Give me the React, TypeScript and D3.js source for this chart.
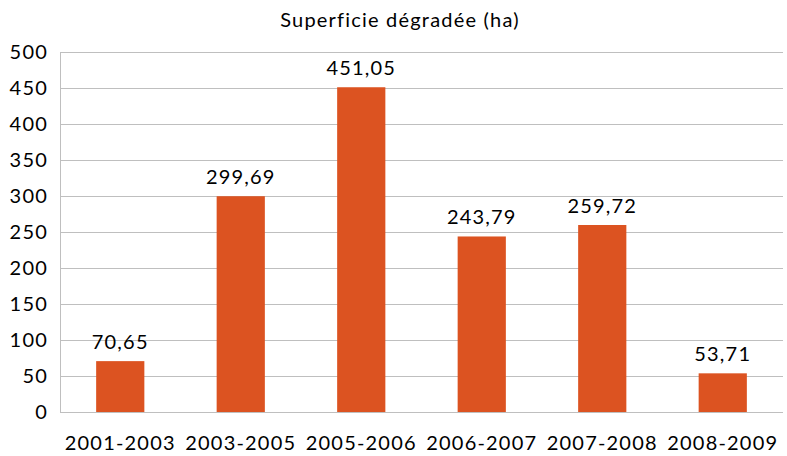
import React, { useEffect, useRef } from "react";
import * as d3 from "d3";

const periods = ["2001-2003", "2003-2005", "2005-2006", "2006-2007", "2007-2008", "2008-2009"];
const surfaces = [70.65, 299.69, 451.05, 243.79, 259.72, 53.71];
const yTicks = [0, 50, 100, 150, 200, 250, 300, 350, 400, 450, 500];
const title = "Superficie dégradée (ha)";

const width = 787;
const height = 456;
const margin = { top: 52, right: 4, bottom: 44, left: 60 };
const font = "Lato, 'Open Sans', sans-serif";

export default function App() {
  const ref = useRef<SVGSVGElement>(null);

  useEffect(() => {
    const svg = d3.select(ref.current);
    svg.html("");

    const x = d3.scaleBand()
      .domain(periods)
      .range([margin.left, width - margin.right])
      .paddingInner(0.6)
      .paddingOuter(0.3);

    const y = d3.scaleLinear()
      .domain([0, 500])
      .range([height - margin.bottom, margin.top]);

    // grid lines
    svg.append("g")
      .selectAll("line")
      .data(yTicks)
      .enter().append("line")
      .attr("x1", margin.left)
      .attr("x2", width - margin.right)
      .attr("y1", d => Math.round(y(d)) + 0.5)
      .attr("y2", d => Math.round(y(d)) + 0.5)
      .attr("stroke", "#bfbfbf")
      .attr("stroke-width", 1);

    svg.append("line")
      .attr("x1", margin.left + 0.5)
      .attr("x2", margin.left + 0.5)
      .attr("y1", y(500))
      .attr("y2", y(0))
      .attr("stroke", "#bfbfbf");

    const label = (sel: any) => sel
      .style("font-family", font)
      .style("font-size", "20px")
      .style("letter-spacing", "1.2px")
      .attr("fill", "#000");

    // y labels
    svg.append("g")
      .selectAll("text")
      .data(yTicks)
      .enter().append("text")
      .attr("x", margin.left - 12)
      .attr("y", d => y(d))
      .attr("dy", "0.36em")
      .attr("text-anchor", "end")
      .call(label)
      .text(d => d);

    // bars
    svg.append("g")
      .selectAll("rect")
      .data(surfaces)
      .enter().append("rect")
      .attr("x", (d, i) => x(periods[i]) as number)
      .attr("y", d => y(d))
      .attr("width", x.bandwidth())
      .attr("height", d => y(0) - y(d))
      .attr("fill", "#dc5321");

    // value labels
    svg.append("g")
      .selectAll("text")
      .data(surfaces)
      .enter().append("text")
      .attr("x", (d, i) => (x(periods[i]) as number) + x.bandwidth() / 2)
      .attr("y", d => y(d) - 12)
      .attr("text-anchor", "middle")
      .call(label)
      .text(d => d.toFixed(2).replace(".", ","));

    // x labels
    svg.append("g")
      .selectAll("text")
      .data(periods)
      .enter().append("text")
      .attr("x", d => (x(d) as number) + x.bandwidth() / 2)
      .attr("y", height - 6)
      .attr("text-anchor", "middle")
      .call(label)
      .text(d => d);

    svg.append("text")
      .attr("x", 400)
      .attr("y", 27)
      .attr("text-anchor", "middle")
      .call(label)
      .text(title);
  }, []);

  return (
    <svg
      ref={ref}
      width={width}
      height={height}
      style={{ position: "absolute", left: 0, top: 0, background: "#fff" }}
    />
  );
}
